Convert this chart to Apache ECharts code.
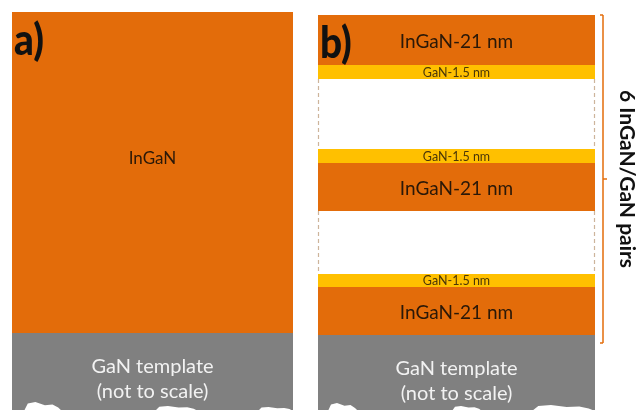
<!DOCTYPE html>
<html>
<head>
<meta charset="utf-8">
<script src="https://cdn.jsdelivr.net/npm/echarts@6/dist/echarts.min.js"></script>
<style>
html,body{margin:0;padding:0;background:#fff;}
#chart{width:637px;height:410px;}
</style>
</head>
<body>
<div id="chart"></div>
<script>
// ---- data (diagram units: x 0..637, y 0..410 from top) ----
const panelNames = ['a)', 'b)'];
const panelLeft = [12, 318];
const panelRight = [293, 595];

const layerPanel  = [0, 0, 1, 1, 1, 1, 1, 1, 1, 1, 1];
const layerKind   = ['InGaN', 'template', 'InGaN', 'GaN', 'gap', 'GaN', 'InGaN', 'gap', 'GaN', 'InGaN', 'template'];
const layerLabel  = ['InGaN', 'GaN template\n(not to scale)', 'InGaN-21 nm', 'GaN-1.5 nm', '', 'GaN-1.5 nm', 'InGaN-21 nm', '', 'GaN-1.5 nm', 'InGaN-21 nm', 'GaN template\n(not to scale)'];
const layerTop    = [12, 333, 15, 65, 79, 149, 163, 211, 274, 287, 335];
const layerBottom = [333, 410, 65, 79, 149, 163, 211, 274, 287, 335, 410];

const bracketX = 603;
const bracketTop = 15;
const bracketBottom = 343;
const bracketLabel = '6 InGaN/GaN pairs';

// broken substrate edge (white chips along the bottom)
const chipPanel = [0, 0, 0, 1, 1, 1];
const chipX0 = [24, 155, 258, 328, 452, 532];
const chipX1 = [62, 198, 293, 358, 482, 595];
const chipRise = [8, 4, 3, 7, 4, 5];

const kindColor = { InGaN: '#E36C0A', GaN: '#FFC000', template: '#808080', gap: 'rgba(0,0,0,0)' };

const chart = echarts.init(document.getElementById('chart'), null, { renderer: 'canvas' });

function renderLayer(params, api) {
  const i = params.dataIndex;
  const p = layerPanel[i];
  const kind = layerKind[i];
  const tl = api.coord([panelLeft[p], layerTop[i]]);
  const br = api.coord([panelRight[p], layerBottom[i]]);
  const w = br[0] - tl[0], h = br[1] - tl[1];
  const children = [];
  if (kind === 'gap') {
    const dash = { stroke: '#cdb49b', lineWidth: 1.2, lineDash: [4, 3] };
    children.push({ type: 'line', shape: { x1: tl[0] + 0.5, y1: tl[1], x2: tl[0] + 0.5, y2: br[1] }, style: dash });
    children.push({ type: 'line', shape: { x1: br[0] - 0.5, y1: tl[1], x2: br[0] - 0.5, y2: br[1] }, style: dash });
  } else {
    children.push({ type: 'rect', shape: { x: tl[0], y: tl[1], width: w, height: h }, style: { fill: kindColor[kind] } });
  }
  const cx = (tl[0] + br[0]) / 2;
  if (kind === 'InGaN') {
    children.push({ type: 'text', style: { text: layerLabel[i], x: cx, y: p === 0 ? tl[1] + h / 2 - 14 : tl[1] + h / 2 + 2, align: 'center', verticalAlign: 'middle',
      fill: '#2a1808', font: (p === 0 ? '17px' : '19px') + ' Lato, "Open Sans", sans-serif' } });
  } else if (kind === 'GaN') {
    children.push({ type: 'text', style: { text: layerLabel[i], x: cx, y: tl[1] + h / 2 + 0.5, align: 'center', verticalAlign: 'middle',
      fill: '#4a3608', font: '12.5px Lato, "Open Sans", sans-serif' } });
  } else if (kind === 'template') {
    children.push({ type: 'text', style: { text: layerLabel[i], x: cx, y: tl[1] + 46, align: 'center', verticalAlign: 'middle',
      fill: '#f2f2f2', font: '20px Lato, "Open Sans", sans-serif', lineHeight: 25 } });
  }
  return { type: 'group', children: children };
}

function renderPanelName(params, api) {
  const p = params.dataIndex;
  const pt = api.coord([panelLeft[p], layerTop[layerPanel.indexOf(p)]]);
  return { type: 'text', x: pt[0] + 2, y: pt[1] + 8, scaleX: 0.9,
    style: { text: panelNames[p], x: 0, y: 0, align: 'left', verticalAlign: 'top', fill: '#111', font: '900 43px Lato, "Open Sans", sans-serif' } };
}

function renderBracket(params, api) {
  const top = api.coord([bracketX, bracketTop]);
  const bot = api.coord([bracketX, bracketBottom]);
  const midY = (top[1] + bot[1]) / 2;
  const st = { stroke: '#E36C0A', lineWidth: 1.5 };
  return { type: 'group', children: [
    { type: 'line', shape: { x1: top[0], y1: top[1], x2: bot[0], y2: bot[1] }, style: st },
    { type: 'line', shape: { x1: top[0] - 3, y1: top[1], x2: top[0], y2: top[1] }, style: st },
    { type: 'line', shape: { x1: bot[0] - 3, y1: bot[1], x2: bot[0], y2: bot[1] }, style: st },
    { type: 'line', shape: { x1: top[0], y1: midY, x2: top[0] + 4, y2: midY }, style: st },
    { type: 'text', x: top[0] + 24, y: midY, rotation: -Math.PI / 2,
      style: { text: bracketLabel, x: 0, y: 0, align: 'center', verticalAlign: 'middle', fill: '#111', font: 'bold 21px Lato, "Open Sans", sans-serif' } }
  ] };
}

function renderChip(params, api) {
  const i = params.dataIndex;
  const a = api.coord([chipX0[i], 410]);
  const b = api.coord([chipX1[i], 410]);
  const r = chipRise[i];
  const w = b[0] - a[0];
  const pts = [
    [a[0], a[1] + 1],
    [a[0] + w * 0.1, a[1] - r * 0.8],
    [a[0] + w * 0.3, a[1] - r],
    [a[0] + w * 0.55, a[1] - r * 0.6],
    [a[0] + w * 0.75, a[1] - r * 0.7],
    [a[0] + w * 0.9, a[1] - r * 0.3],
    [b[0], b[1] + 1]
  ];
  return { type: 'polygon', shape: { points: pts }, style: { fill: '#ffffff' } };
}

const option = {
  animation: false,
  backgroundColor: '#ffffff',
  grid: { left: 0, right: 0, top: 0, bottom: 0 },
  xAxis: { type: 'value', min: 0, max: 637, show: false },
  yAxis: { type: 'value', min: 0, max: 410, inverse: true, show: false },
  series: [
    { type: 'custom', renderItem: renderLayer, data: layerTop.map((t, i) => [panelLeft[layerPanel[i]], t, panelRight[layerPanel[i]], layerBottom[i]]), silent: true },
    { type: 'custom', renderItem: renderChip, data: chipX0.map((x, i) => [x, 410]), silent: true },
    { type: 'custom', renderItem: renderPanelName, data: panelNames.map((n, i) => [panelLeft[i], 0]), silent: true },
    { type: 'custom', renderItem: renderBracket, data: [[bracketX, bracketTop, bracketBottom]], silent: true }
  ]
};
chart.setOption(option);
</script>
</body>
</html>
